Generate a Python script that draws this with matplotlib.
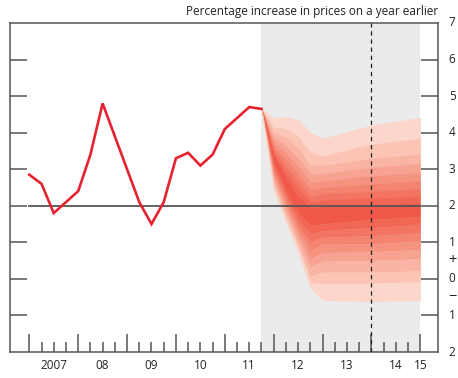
import numpy as np
import matplotlib
matplotlib.use("Agg")
import matplotlib.pyplot as plt
from matplotlib.transforms import blended_transform_factory

plt.rcParams['font.family'] = ['Open Sans', 'DejaVu Sans']

# ---------------- data ----------------
cpi_quarters = ["2007Q1", "2007Q2", "2007Q3", "2007Q4",
                "2008Q1", "2008Q2", "2008Q3", "2008Q4",
                "2009Q1", "2009Q2", "2009Q3", "2009Q4",
                "2010Q1", "2010Q2", "2010Q3", "2010Q4",
                "2011Q1", "2011Q2", "2011Q3", "2011Q4"]
cpi_values = [2.85, 2.6, 1.8, 2.1, 2.4, 3.4, 4.8, 3.9, 3.0, 2.1, 1.5, 2.1,
              3.3, 3.45, 3.1, 3.4, 4.1, 4.4, 4.7, 4.65]

# fan chart band boundaries (top outer ... bottom outer), per forecast node
fan_quarters = ["2011Q4", "2012Q1", "2012Q2", "2012Q3", "2012Q4",
                "2013Q1", "2014Q1", "2015Q1"]
fan_2011q4 = [4.65] * 18
fan_2012q1 = [4.40, 4.15, 4.00, 3.86, 3.74, 3.64, 3.55, 3.47, 3.40,
              3.15, 3.06, 2.97, 2.88, 2.80, 2.70, 2.60, 2.50, 2.40]
fan_2012q2 = [4.44, 4.10, 3.86, 3.63, 3.45, 3.26, 3.08, 2.94, 2.80,
              2.40, 2.28, 2.17, 2.06, 1.95, 1.84, 1.74, 1.64, 1.55]
fan_2012q3 = [4.36, 3.90, 3.58, 3.31, 3.08, 2.85, 2.67, 2.49, 2.25,
              1.80, 1.62, 1.48, 1.35, 1.22, 1.08, 0.95, 0.84, 0.72]
fan_2012q4 = [4.00, 3.45, 3.10, 2.86, 2.64, 2.44, 2.26, 2.10, 1.95,
              1.45, 1.22, 1.00, 0.78, 0.55, 0.32, 0.08, -0.10, -0.25]
fan_2013q1 = [3.84, 3.36, 3.10, 2.88, 2.68, 2.50, 2.33, 2.16, 1.98,
              1.50, 1.32, 1.14, 0.95, 0.72, 0.48, 0.18, -0.14, -0.58]
fan_2014q1 = [4.20, 3.68, 3.30, 3.05, 2.82, 2.60, 2.40, 2.22, 2.03,
              1.62, 1.40, 1.18, 0.96, 0.74, 0.50, 0.18, -0.12, -0.62]
fan_2015q1 = [4.41, 3.84, 3.40, 3.15, 2.90, 2.68, 2.46, 2.27, 2.08,
              1.70, 1.48, 1.26, 1.03, 0.80, 0.55, 0.22, -0.08, -0.58]

target = 2.0
year_labels = ["2007", "08", "09", "10", "11", "12", "13", "14", "15"]
y_right_labels = ["7", "6", "5", "4", "3", "2", "1", "0", "1", "2"]
y_right_values = [7, 6, 5, 4, 3, 2, 1, 0, -1, -2]
title = "Percentage increase in prices on a year earlier"

band_colors = ["#fcd6ca", "#fbc4b5", "#f9b4a3", "#f8a391", "#f69380",
               "#f4836f", "#f37461", "#f26754", "#f05849"]


def qpos(s):
    return int(s[:4]) + (int(s[-1]) - 1) / 4.0


# ---------------- figure ----------------
fig = plt.figure(figsize=(4.58, 3.78), dpi=100)
ax = fig.add_axes([10 / 458, 1 - 352 / 378, 428 / 458, 329 / 378])

x_cpi = [qpos(s) for s in cpi_quarters]
x_fan = [qpos(s) for s in fan_quarters]
fan = np.array([fan_2011q4, fan_2012q1, fan_2012q2, fan_2012q3, fan_2012q4,
                fan_2013q1, fan_2014q1, fan_2015q1])

# forecast shading
ax.axvspan(x_fan[0], x_fan[-1], color="#ebebeb", lw=0, zorder=0)

nb = fan.shape[1] - 1
for i in range(nb):
    level = i if i <= nb // 2 else nb - 1 - i
    ax.fill_between(x_fan, fan[:, i], fan[:, i + 1], color=band_colors[level],
                    lw=0.3, edgecolor=band_colors[level], zorder=1)

# target line
ax.plot([2007, 2015], [target, target], color="#555555", lw=1.3, zorder=2)
# two-year horizon
ax.axvline(2014, color="#222222", lw=0.9, ls=(0, (3.5, 3)), zorder=3)

ax.plot(x_cpi, cpi_values, color="#e52330", lw=1.9, zorder=4,
        solid_joinstyle="miter")

ax.set_xlim(2006.605, 2015.362)
ax.set_ylim(-2, 7)

for sp in ax.spines.values():
    sp.set_color("#555555")
    sp.set_linewidth(1.1)

ax.set_yticks([6, 5, 4, 3, 2, 1, 0, -1])
ax.tick_params(axis="y", which="both", direction="in", length=12, width=1.1,
               color="#555555", left=True, right=True,
               labelleft=False, labelright=False)

years = list(range(2007, 2016))
ax.set_xticks(years)
ax.set_xticks([y + q / 4 for y in years[:-1] for q in (1, 2, 3)], minor=True)
ax.tick_params(axis="x", which="major", direction="in", length=13, width=1.1,
               color="#555555", labelbottom=False)
ax.tick_params(axis="x", which="minor", direction="in", length=7, width=1.1,
               color="#555555")

tr = blended_transform_factory(ax.transData, ax.transAxes)
for i, lab in enumerate(year_labels):
    xpos = years[i] + 0.5 if i < len(year_labels) - 1 else years[i]
    ax.text(xpos, -0.04, lab, transform=tr, ha="center", va="center",
            fontsize=8.5, color="#222222")

tr2 = blended_transform_factory(ax.transAxes, ax.transData)
for v, lab in zip(y_right_values, y_right_labels):
    ax.text(1.033, v, lab, transform=tr2, ha="center", va="center",
            fontsize=8.5, color="#222222")
ax.text(1.033, 0.5, "+", transform=tr2, ha="center", va="center",
        fontsize=10.5, color="#222222")
ax.text(1.033, -0.5, "\u2212", transform=tr2, ha="center", va="center",
        fontsize=10.5, color="#222222")

fig.text(438 / 458, 1 - 11 / 378, title, ha="right", va="center",
         fontsize=8.5, color="#222222")

fig.savefig("out.png", dpi=100)
